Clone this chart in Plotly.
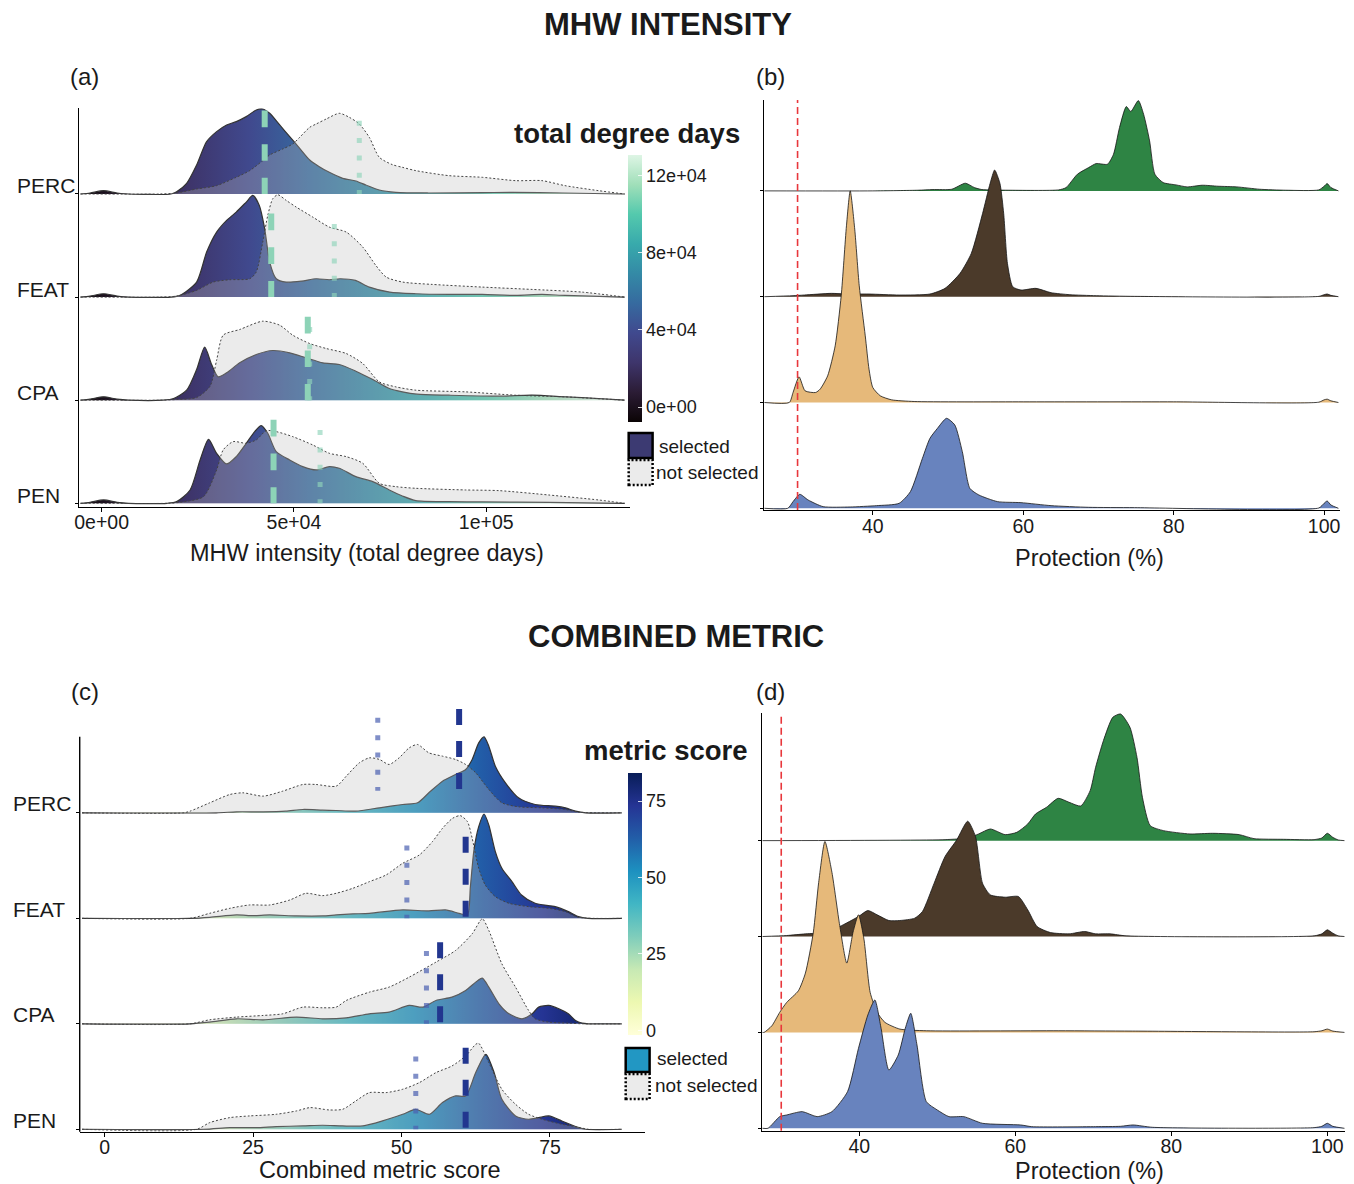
import numpy as np
import plotly.graph_objects as go

# ------------------------------------------------------------------ DATA
RIDGES = ["PERC", "FEAT", "CPA", "PEN"]          # top to bottom
RIDGE_LEVEL = [3, 2, 1, 0]

# Panel (a): MHW intensity, x in units of 1e4 total degree days; relative density heights
A_PERC_SEL_X = [-0.55, -0.3, 0.05, 0.4, 0.7, 1.8, 1.95, 2.21, 2.47, 2.73, 2.99, 3.25, 3.5, 3.76, 4.02, 4.19, 4.37, 4.63, 4.89, 5.15, 5.41, 5.66, 5.92, 6.27, 6.61, 6.87, 7.22, 7.65, 8.5, 9.9, 10.7, 12.0, 13.6]
A_PERC_SEL_D = [0, 3, 10, 3, 0, 0, 7, 32, 87, 157, 187, 207, 217, 232, 252, 255, 242, 207, 172, 137, 102, 82, 65, 47, 39, 27, 12, 5, 3, 4, 5, 3, 0]
A_PERC_NS_X = [-0.55, 1.5, 1.95, 2.47, 2.99, 3.5, 3.85, 4.19, 4.37, 4.71, 4.97, 5.15, 5.41, 5.58, 5.84, 6.18, 6.44, 6.7, 6.96, 7.22, 7.56, 7.82, 8.17, 9.03, 9.9, 10.76, 11.45, 12.05, 12.92, 13.6]
A_PERC_NS_D = [0, 0, 3, 15, 25, 50, 70, 100, 117, 135, 150, 170, 200, 210, 225, 242, 230, 210, 170, 110, 88, 80, 70, 55, 50, 40, 40, 25, 10, 0]
A_FEAT_SEL_X = [-0.55, -0.3, 0.05, 0.4, 0.7, 1.8, 2.04, 2.47, 2.73, 2.99, 3.25, 3.5, 3.76, 3.93, 4.1, 4.24, 4.37, 4.54, 4.8, 5.2, 5.58, 5.92, 6.2, 6.6, 6.96, 7.49, 8.17, 9.03, 9.9, 10.76, 11.45, 12.05, 13.6]
A_FEAT_SEL_D = [0, 3, 10, 3, 0, 0, 5, 45, 135, 195, 230, 255, 285, 305, 275, 205, 105, 55, 45, 48, 55, 52, 55, 50, 30, 15, 10, 8, 8, 5, 8, 5, 0]
A_FEAT_NS_X = [-0.55, 1.5, 1.95, 2.47, 2.9, 3.33, 3.85, 4.02, 4.19, 4.32, 4.45, 4.58, 4.8, 5.06, 5.49, 5.92, 6.36, 6.79, 7.13, 7.4, 7.83, 8.6, 9.9, 11.19, 12.49, 13.6]
A_FEAT_NS_D = [0, 0, 3, 20, 45, 52, 55, 75, 165, 245, 295, 307, 290, 270, 240, 210, 195, 150, 95, 60, 45, 38, 30, 23, 15, 0]
A_CPA_SEL_X = [-0.55, -0.3, 0.05, 0.4, 0.7, 1.6, 1.87, 2.21, 2.47, 2.68, 2.86, 3.03, 3.25, 3.59, 4.02, 4.45, 4.89, 5.32, 5.75, 6.18, 6.61, 7.05, 7.48, 7.82, 8.2, 9.03, 10.33, 11.19, 12.05, 12.92, 13.6]
A_CPA_SEL_D = [0, 3, 10, 3, 0, 0, 5, 30, 92, 159, 107, 70, 82, 112, 137, 149, 142, 127, 112, 107, 87, 62, 35, 25, 18, 15, 12, 15, 10, 5, 0]
A_CPA_NS_X = [-0.55, 1.5, 1.95, 2.47, 2.82, 2.99, 3.16, 3.59, 4.19, 4.63, 4.97, 5.41, 5.84, 6.36, 6.79, 7.22, 7.65, 8.17, 9.46, 10.76, 12.05, 13.6]
A_CPA_NS_D = [0, 0, 2, 8, 42, 120, 195, 212, 237, 225, 195, 170, 155, 140, 110, 55, 40, 30, 25, 15, 10, 0]
A_PEN_SEL_X = [-0.55, -0.3, 0.05, 0.4, 0.7, 1.7, 1.95, 2.3, 2.56, 2.78, 2.99, 3.25, 3.5, 3.76, 3.98, 4.15, 4.32, 4.54, 4.89, 5.23, 5.58, 5.92, 6.18, 6.61, 7.05, 7.48, 7.82, 8.17, 9.03, 9.9, 11.62, 13.6]
A_PEN_SEL_D = [0, 3, 10, 3, 0, 0, 5, 40, 130, 192, 150, 118, 140, 180, 215, 233, 210, 155, 130, 110, 100, 110, 105, 80, 65, 40, 22, 8, 5, 4, 3, 0]
A_PEN_NS_X = [-0.55, 1.7, 2.04, 2.65, 2.99, 3.16, 3.42, 3.76, 4.02, 4.28, 4.54, 4.97, 5.49, 5.92, 6.36, 6.79, 7.22, 7.65, 8.17, 9.46, 10.33, 11.62, 12.92, 13.6]
A_PEN_NS_D = [0, 0, 3, 20, 100, 160, 185, 180, 190, 218, 215, 200, 175, 150, 140, 120, 60, 50, 45, 40, 38, 25, 10, 0]
A_MEDIAN_SEL_E4 = [4.24, 4.41, 5.36, 4.47]     # PERC, FEAT, CPA, PEN
A_MEDIAN_NS_E4 = [6.70, 6.05, 5.41, 5.68]
A_TICKS = [0, 5e4, 1e5]
A_TICKTEXT = ["0e+00", "5e+04", "1e+05"]
A_CB_TICKS = [0, 4e4, 8e4, 12e4]
A_CB_TEXT = ["0e+00", "4e+04", "8e+04", "12e+04"]

# Panel (b): protection (%) under MHW intensity
B_PERC_X = [25.6, 40.0, 46.0, 48.0, 50.5, 52.3, 53.5, 54.5, 58.0, 64.7, 65.7, 67.2, 68.7, 69.7, 71.2, 72.0, 72.8, 73.7, 74.3, 75.3, 76.0, 76.8, 77.5, 78.6, 80.3, 81.8, 83.8, 85.9, 88.4, 91.4, 94.9, 99.3, 100.0, 100.4, 100.9, 101.9]
B_PERC_D = [0, 0, 2, 4, 5, 23, 10, 4, 2, 3, 10, 50, 70, 82, 80, 110, 190, 253, 238, 271, 230, 150, 50, 25, 18, 12, 17, 14, 12, 5, 2, 3, 14, 22, 10, 0]
B_FEAT_X = [25.6, 29.4, 30.9, 34.5, 36.5, 39.5, 43.5, 47.6, 49.6, 51.6, 53.1, 54.6, 55.6, 56.2, 56.9, 57.4, 57.9, 58.6, 59.7, 61.7, 63.7, 66.2, 69.7, 74.8, 99.3, 100.0, 100.4, 100.9, 101.9]
B_FEAT_D = [0, 3, 5, 10, 8, 8, 5, 8, 25, 70, 130, 250, 340, 380, 340, 250, 100, 30, 20, 25, 12, 6, 3, 1, 1, 6, 8, 4, 0]
B_CPA_X = [25.6, 28.9, 29.4, 30.2, 31.0, 32.4, 33.0, 34.0, 35.0, 35.8, 36.5, 37.0, 37.6, 38.2, 39.0, 39.5, 40.0, 41.0, 42.5, 45.5, 60.0, 80.0, 99.3, 100.0, 100.4, 100.9, 101.9]
B_CPA_D = [0, 0, 30, 77, 35, 30, 40, 80, 170, 320, 530, 635, 520, 350, 200, 100, 45, 20, 8, 3, 2, 2, 1, 8, 10, 5, 0]
B_PEN_X = [25.6, 28.7, 29.4, 30.3, 31.4, 33.4, 37.0, 40.5, 43.5, 45.0, 46.6, 47.6, 48.6, 49.8, 50.9, 51.9, 52.9, 54.1, 56.6, 59.7, 63.7, 68.7, 74.8, 99.3, 100.0, 100.4, 100.9, 101.9]
B_PEN_D = [0, 0, 20, 42, 25, 5, 4, 8, 15, 50, 150, 210, 240, 270, 250, 170, 60, 40, 20, 17, 8, 3, 2, 1, 15, 22, 10, 0]

# Panel (c): combined metric score
C_PERC_SEL_X = [-3.8, 18.8, 22.2, 26.7, 30.5, 33.4, 36.7, 39.0, 42.3, 46.3, 50.2, 52.7, 54.6, 56.9, 59.1, 60.8, 61.9, 63.0, 63.9, 64.7, 65.8, 67.5, 69.7, 72.5, 75.9, 77.6, 79.3, 81.0, 87.1]
C_PERC_SEL_D = [0, 0, 3, 3, 5, 10, 8, 7, 5, 15, 25, 30, 60, 95, 115, 130, 160, 210, 228, 200, 140, 90, 45, 25, 20, 15, 5, 0, 0]
C_PERC_NS_X = [-3.8, 13.3, 14.4, 17.7, 21.1, 23.3, 26.7, 30.0, 33.4, 35.6, 39.0, 40.7, 42.9, 44.6, 46.3, 47.9, 49.6, 51.3, 52.7, 54.6, 56.9, 59.1, 60.8, 62.5, 64.7, 66.9, 69.7, 73.7, 77.6, 79.8, 87.1]
C_PERC_NS_D = [0, 0, 5, 30, 55, 60, 50, 65, 85, 85, 80, 110, 150, 165, 160, 145, 165, 195, 205, 180, 170, 160, 145, 120, 70, 30, 18, 15, 10, 2, 0]
C_FEAT_SEL_X = [-3.8, 14.4, 17.7, 22.2, 25.0, 27.8, 32.3, 36.7, 39.0, 41.8, 44.6, 50.2, 54.6, 57.4, 59.7, 61.1, 61.6, 62.2, 63.0, 63.9, 64.7, 65.8, 66.9, 68.6, 70.2, 72.5, 75.9, 78.1, 79.8, 81.4, 87.1]
C_FEAT_SEL_D = [0, 0, 3, 10, 8, 10, 7, 7, 10, 13, 15, 25, 22, 25, 15, 10, 95, 205, 275, 313, 280, 200, 150, 110, 70, 45, 35, 20, 5, 0, 0]
C_FEAT_NS_X = [-3.8, 14.4, 17.7, 21.1, 24.4, 27.8, 31.2, 33.9, 36.7, 39.0, 41.8, 44.6, 47.4, 50.2, 53.0, 55.2, 56.9, 58.6, 59.9, 61.1, 61.9, 63.0, 64.1, 65.8, 68.1, 71.4, 74.8, 77.6, 79.8, 87.1]
C_FEAT_NS_D = [0, 0, 15, 30, 40, 40, 55, 75, 68, 75, 90, 110, 130, 165, 190, 230, 270, 300, 308, 290, 240, 150, 100, 65, 45, 35, 30, 20, 3, 0]
C_CPA_SEL_X = [-3.8, 14.4, 17.7, 22.2, 26.7, 32.3, 36.7, 40.7, 44.6, 47.9, 51.3, 53.6, 55.8, 58.5, 60.8, 62.5, 63.6, 64.7, 66.4, 68.1, 70.3, 72.0, 73.1, 74.8, 76.5, 78.1, 79.3, 80.4, 81.5, 87.1]
C_CPA_SEL_D = [0, 0, 5, 15, 12, 20, 15, 18, 30, 35, 55, 50, 70, 80, 100, 125, 137, 110, 60, 30, 15, 30, 50, 55, 45, 30, 10, 2, 0, 0]
C_CPA_NS_X = [-3.8, 14.4, 17.7, 22.2, 26.7, 30.0, 33.4, 36.7, 39.0, 40.7, 44.6, 47.9, 51.3, 55.8, 59.1, 61.9, 63.6, 64.7, 66.9, 69.2, 71.4, 72.5, 74.8, 78.1, 80.4, 87.1]
C_CPA_NS_D = [0, 0, 12, 20, 25, 30, 50, 48, 50, 70, 95, 110, 140, 185, 220, 270, 315, 280, 180, 110, 40, 15, 5, 2, 0, 0]
C_PEN_SEL_X = [-3.8, 16.6, 21.1, 25.5, 28.9, 33.4, 36.7, 40.1, 43.5, 46.8, 50.2, 52.4, 54.7, 56.9, 59.1, 60.8, 62.5, 64.2, 65.6, 66.9, 69.2, 71.4, 73.1, 74.8, 77.0, 79.3, 81.0, 87.1]
C_PEN_SEL_D = [0, 0, 5, 5, 8, 10, 12, 10, 10, 25, 45, 60, 45, 80, 100, 100, 170, 225, 170, 90, 40, 30, 35, 40, 25, 8, 0, 0]
C_PEN_NS_X = [-3.8, 15.5, 17.7, 21.1, 24.4, 28.9, 32.3, 34.6, 37.8, 40.1, 42.3, 44.6, 47.4, 50.2, 53.0, 55.8, 58.5, 60.8, 62.5, 63.0, 64.7, 66.9, 69.2, 71.4, 73.7, 77.0, 79.3, 81.5, 87.1]
C_PEN_NS_D = [0, 0, 20, 35, 40, 45, 55, 65, 58, 60, 85, 110, 110, 120, 140, 170, 190, 220, 255, 258, 200, 120, 75, 45, 30, 15, 8, 0, 0]
C_MEDIAN_SEL = [59.7, 60.8, 56.5, 60.8]        # PERC, FEAT, CPA, PEN
C_MEDIAN_NS = [46.0, 50.9, 54.2, 52.4]
C_TICKS = [0, 25, 50, 75]
C_CB_TICKS = [0, 25, 50, 75]

# Panel (d): protection (%) under combined metric
D_PERC_X = [27.6, 51.0, 53.9, 55.3, 56.8, 58.7, 60.2, 61.6, 62.6, 64.0, 65.5, 66.9, 68.4, 69.6, 70.3, 71.3, 72.5, 73.5, 74.7, 75.6, 76.3, 77.3, 79.0, 82.4, 85.3, 88.7, 90.6, 94.4, 98.3, 99.3, 100.0, 100.7, 101.4, 102.2]
D_PERC_D = [0, 3, 8, 20, 35, 18, 25, 50, 80, 100, 127, 115, 104, 150, 220, 300, 370, 380, 340, 250, 130, 45, 30, 20, 22, 18, 6, 4, 3, 8, 22, 10, 2, 0]
D_FEAT_X = [27.6, 30.7, 33.1, 35.6, 37.5, 39.9, 41.1, 42.3, 43.8, 45.2, 47.1, 48.1, 49.6, 51.0, 52.5, 53.9, 54.9, 55.8, 56.8, 58.7, 60.4, 61.6, 62.8, 64.5, 66.9, 68.9, 70.3, 72.2, 74.2, 98.3, 99.3, 100.0, 100.7, 101.4, 102.2]
D_FEAT_D = [0, 3, 8, 12, 30, 60, 78, 65, 48, 48, 55, 75, 160, 240, 290, 346, 300, 160, 125, 118, 120, 80, 30, 12, 8, 15, 8, 8, 2, 2, 8, 20, 10, 2, 0]
D_CPA_X = [27.6, 27.8, 28.8, 29.8, 30.7, 32.2, 33.1, 34.1, 34.8, 35.6, 36.5, 37.5, 38.4, 39.2, 39.9, 40.6, 41.4, 42.3, 43.3, 45.2, 48.6, 65.5, 75.0, 98.3, 99.3, 100.0, 100.7, 102.2]
D_CPA_D = [0, 0, 20, 60, 90, 125, 178, 298, 450, 573, 480, 320, 208, 300, 353, 280, 120, 60, 30, 10, 5, 5, 4, 2, 5, 10, 4, 0]
D_PEN_X = [27.6, 28.3, 29.8, 30.7, 32.7, 34.6, 36.5, 38.5, 39.9, 41.1, 42.0, 42.8, 43.8, 45.0, 45.9, 46.6, 47.4, 48.6, 50.0, 51.5, 53.4, 55.8, 60.7, 62.1, 70.3, 73.5, 75.1, 77.6, 98.3, 99.3, 100.0, 100.7, 102.2]
D_PEN_D = [0, 0, 35, 40, 50, 35, 50, 110, 240, 340, 385, 300, 175, 220, 300, 345, 250, 80, 55, 35, 35, 15, 10, 5, 5, 6, 10, 3, 2, 6, 15, 6, 0]

PROT_TICKS = [40, 60, 80, 100]
PROTECTION_TARGET = 30

# ------------------------------------------------------------------ STYLE
W, H = 1354, 1184
FONT = "Liberation Sans, Arial, Helvetica, sans-serif"
INK = "#1a1a1a"
E4 = 1e4

MAKO = [[0.0, "#0B0405"], [0.111, "#2B1C35"], [0.222, "#3E356B"], [0.333, "#40498E"],
        [0.444, "#366A9F"], [0.556, "#348AA6"], [0.667, "#38AAAC"], [0.778, "#54C9AD"],
        [0.889, "#A0DFB9"], [1.0, "#DEF5E5"]]
YLGNBU_HEX = ["#ffffd9", "#edf8b1", "#c7e9b4", "#7fcdbb", "#41b6c4", "#1d91c0", "#225ea8", "#253494", "#081d58"]
YLGNBU = [[i / (len(YLGNBU_HEX) - 1), c] for i, c in enumerate(YLGNBU_HEX)]
A_CMIN, A_CMAX = -7700, 130500
C_CMIN, C_CMAX = -1.5, 84.2

RIDGE_COLORS = {"PERC": "#2e8444", "FEAT": "#4b3a2a", "CPA": "#e6b97a", "PEN": "#6883be"}
GREY_FILL = "rgba(190,190,190,0.30)"

SCALE_A = 1 / 309.3
SCALE_B = 1 / 317.4
SCALE_C = 1 / 316.5
SCALE_D = 1 / 287.7


def px(x):
    return x / W


def py(y):
    return 1 - y / H


fig = go.Figure()


def add_ridge(xs, ds, base, scale, ax, line, fillcolor=None, gradient=None, xmul=1.0):
    xs = np.asarray(xs, float) * xmul
    ys = base + np.asarray(ds, float) * scale
    fig.add_trace(go.Scatter(x=[xs[0], xs[-1]], y=[base, base], mode="lines",
                             line=dict(width=0, color="rgba(0,0,0,0)"), hoverinfo="skip",
                             showlegend=False, xaxis=ax[0], yaxis=ax[1]))
    kw = dict(x=xs, y=ys, mode="lines", fill="tonexty", line=line, hoverinfo="skip",
              showlegend=False, xaxis=ax[0], yaxis=ax[1])
    if gradient is not None:
        kw["fillgradient"] = gradient
    else:
        kw["fillcolor"] = fillcolor
    fig.add_trace(go.Scatter(**kw))


def vseg(x, y0, y1, ax, color, width, dash):
    fig.add_trace(go.Scatter(x=[x, x], y=[y0, y1], mode="lines",
                             line=dict(color=color, width=width, dash=dash),
                             hoverinfo="skip", showlegend=False, xaxis=ax[0], yaxis=ax[1]))


SEL_LINE = dict(color="#333333", width=1.2, shape="spline", smoothing=0.7)
NS_LINE = dict(color="#444444", width=1.0, dash="2px,2px", shape="spline", smoothing=0.7)
PROT_LINE = dict(color="#151515", width=0.8, shape="spline", smoothing=0.6)

# ---------------- panel (a)
A_SEL = {"PERC": (A_PERC_SEL_X, A_PERC_SEL_D), "FEAT": (A_FEAT_SEL_X, A_FEAT_SEL_D),
         "CPA": (A_CPA_SEL_X, A_CPA_SEL_D), "PEN": (A_PEN_SEL_X, A_PEN_SEL_D)}
A_NS = {"PERC": (A_PERC_NS_X, A_PERC_NS_D), "FEAT": (A_FEAT_NS_X, A_FEAT_NS_D),
        "CPA": (A_CPA_NS_X, A_CPA_NS_D), "PEN": (A_PEN_NS_X, A_PEN_NS_D)}
A_GRAD = dict(type="horizontal", colorscale=MAKO, start=A_CMIN, stop=A_CMAX)
for name, lev in zip(RIDGES, RIDGE_LEVEL):
    add_ridge(*A_SEL[name], lev, SCALE_A, ("x", "y"), SEL_LINE, gradient=A_GRAD, xmul=E4)
    add_ridge(*A_NS[name], lev, SCALE_A, ("x", "y"), NS_LINE, fillcolor=GREY_FILL, xmul=E4)

# ---------------- panel (b)
B_DATA = {"PERC": (B_PERC_X, B_PERC_D), "FEAT": (B_FEAT_X, B_FEAT_D),
          "CPA": (B_CPA_X, B_CPA_D), "PEN": (B_PEN_X, B_PEN_D)}
for name, lev in zip(RIDGES, RIDGE_LEVEL):
    add_ridge(*B_DATA[name], lev, SCALE_B, ("x2", "y2"), PROT_LINE, fillcolor=RIDGE_COLORS[name])

# ---------------- panel (c)
C_SEL = {"PERC": (C_PERC_SEL_X, C_PERC_SEL_D), "FEAT": (C_FEAT_SEL_X, C_FEAT_SEL_D),
         "CPA": (C_CPA_SEL_X, C_CPA_SEL_D), "PEN": (C_PEN_SEL_X, C_PEN_SEL_D)}
C_NS = {"PERC": (C_PERC_NS_X, C_PERC_NS_D), "FEAT": (C_FEAT_NS_X, C_FEAT_NS_D),
        "CPA": (C_CPA_NS_X, C_CPA_NS_D), "PEN": (C_PEN_NS_X, C_PEN_NS_D)}
C_GRAD = dict(type="horizontal", colorscale=YLGNBU, start=C_CMIN, stop=C_CMAX)
for name, lev in zip(RIDGES, RIDGE_LEVEL):
    add_ridge(*C_SEL[name], lev, SCALE_C, ("x3", "y3"), SEL_LINE, gradient=C_GRAD)
    add_ridge(*C_NS[name], lev, SCALE_C, ("x3", "y3"), NS_LINE, fillcolor=GREY_FILL)

# ---------------- panel (d)
D_DATA = {"PERC": (D_PERC_X, D_PERC_D), "FEAT": (D_FEAT_X, D_FEAT_D),
          "CPA": (D_CPA_X, D_CPA_D), "PEN": (D_PEN_X, D_PEN_D)}
for name, lev in zip(RIDGES, RIDGE_LEVEL):
    add_ridge(*D_DATA[name], lev, SCALE_D, ("x4", "y4"), PROT_LINE, fillcolor=RIDGE_COLORS[name])

# ---------------- median lines
A_DASH_H, A_DOT_H = 0.81, 0.71
for lev, ms, mn in zip(RIDGE_LEVEL, A_MEDIAN_SEL_E4, A_MEDIAN_NS_E4):
    vseg(mn * E4, lev + A_DOT_H, lev, ("x", "y"), "rgba(143,212,186,0.65)", 5, "5px,12.3px")
    vseg(ms * E4, lev + A_DASH_H, lev, ("x", "y"), "#8dd3b7", 6, "16.7px,17px")

C_DASH_H, C_DOT_H = 0.774, 0.69
C_LINE_LIFT = [0.21, 0.0, 0.0, 0.0]
for lev, ms, mn, lift in zip(RIDGE_LEVEL, C_MEDIAN_SEL, C_MEDIAN_NS, C_LINE_LIFT):
    vseg(mn, lev + lift + C_DOT_H, lev + lift, ("x3", "y3"), "rgba(74,95,176,0.70)", 5, "5px,12.3px")
    vseg(ms, lev + lift + C_DASH_H, lev + lift, ("x3", "y3"), "#22368f", 6, "16px,16px")

# ---------------- colorbars
fig.add_trace(go.Scatter(
    x=[A_CMIN, A_CMIN], y=[-5, -5], mode="markers", hoverinfo="skip", showlegend=False,
    xaxis="x", yaxis="y",
    marker=dict(size=1, opacity=0, color=[A_CMIN, A_CMAX], colorscale=MAKO, cmin=A_CMIN, cmax=A_CMAX,
                showscale=True,
                colorbar=dict(x=px(626), xanchor="left", y=py(288.5), yanchor="middle",
                              len=267 / H, lenmode="fraction", thickness=14, thicknessmode="pixels",
                              xpad=0, ypad=0, outlinewidth=0, tickvals=A_CB_TICKS, ticktext=A_CB_TEXT,
                              ticks="inside", ticklen=4, tickcolor="rgba(255,255,255,0.8)",
                              tickfont=dict(size=18, color=INK, family=FONT)))))
fig.add_trace(go.Scatter(
    x=[C_CMIN, C_CMIN], y=[-5, -5], mode="markers", hoverinfo="skip", showlegend=False,
    xaxis="x3", yaxis="y3",
    marker=dict(size=1, opacity=0, color=[C_CMIN, C_CMAX], colorscale=YLGNBU, cmin=C_CMIN, cmax=C_CMAX,
                showscale=True,
                colorbar=dict(x=px(626), xanchor="left", y=py(903.9), yanchor="middle",
                              len=262.3 / H, lenmode="fraction", thickness=14, thicknessmode="pixels",
                              xpad=0, ypad=0, outlinewidth=0, tickvals=C_CB_TICKS,
                              ticks="inside", ticklen=4, tickcolor="rgba(255,255,255,0.8)",
                              tickfont=dict(size=18, color=INK, family=FONT)))))

# ---------------- axes
def xax(domain, rng, tickvals, ticktext, anchor):
    return dict(domain=domain, range=rng, anchor=anchor, showline=True, linecolor="black",
                linewidth=1.4, ticks="outside", ticklen=4, tickwidth=1, tickcolor="black",
                tickvals=tickvals, ticktext=ticktext, ticklabelstandoff=-6,
                tickfont=dict(size=19.5, color=INK, family=FONT),
                showgrid=False, zeroline=False, fixedrange=True)


def yax(domain, rng, anchor, showline=True):
    return dict(domain=domain, range=rng, anchor=anchor, showline=showline, linecolor="black",
                linewidth=1.4, ticks="outside", ticklen=3, tickwidth=1, tickcolor="black",
                tickvals=RIDGE_LEVEL, showticklabels=False,
                showgrid=False, zeroline=False, fixedrange=True)


fig.update_layout(
    xaxis=xax([px(75), px(628)], [-5959, 137306], A_TICKS, A_TICKTEXT, "y"),
    yaxis=yax([py(506.7), py(108.3)], [-0.033, 3.831], "x"),
    xaxis2=xax([px(762.6), px(1340.5)], [25.51, 102.05], PROT_TICKS, [str(v) for v in PROT_TICKS], "y2"),
    yaxis2=yax([py(510), py(100)], [-0.016, 3.859], "x2"),
    xaxis3=xax([px(76), px(643)], [-4.19, 90.94], C_TICKS, [str(v) for v in C_TICKS], "y3"),
    yaxis3=yax([py(1131.7), py(705)], [-0.023, 4.022], "x3", showline=False),
    xaxis4=xax([px(760.7), px(1346)], [27.52, 102.27], PROT_TICKS, [str(v) for v in PROT_TICKS], "y4"),
    yaxis4=yax([py(1130.7), py(713)], [-0.025, 4.331], "x4"),
)

# ---------------- shapes
shapes = [
    dict(type="line", xref="x2", yref="y2 domain", x0=PROTECTION_TARGET, x1=PROTECTION_TARGET, y0=0, y1=1,
         line=dict(color="#e8373c", width=1.6, dash="7px,4px"), layer="above"),
    dict(type="line", xref="x4", yref="y4 domain", x0=PROTECTION_TARGET, x1=PROTECTION_TARGET, y0=0, y1=1,
         line=dict(color="#e8373c", width=1.6, dash="7px,4px"), layer="above"),
    dict(type="line", xref="x3 domain", yref="paper", x0=0, x1=0, y0=py(1131.7), y1=py(736.7),
         line=dict(color="black", width=1.4)),
    # legend keys (a)
    dict(type="rect", xref="paper", yref="paper", x0=px(627), x1=px(651), y0=py(458), y1=py(433),
         fillcolor="#3c3a72", line=dict(color="black", width=2.5)),
    dict(type="rect", xref="paper", yref="paper", x0=px(627), x1=px(651), y0=py(485), y1=py(460),
         fillcolor="#ebebeb", line=dict(color="black", width=2.5, dash="2px,2px")),
    # legend keys (c)
    dict(type="rect", xref="paper", yref="paper", x0=px(624), x1=px(648), y0=py(1072), y1=py(1048),
         fillcolor="#2297c3", line=dict(color="black", width=2.5)),
    dict(type="rect", xref="paper", yref="paper", x0=px(624), x1=px(648), y0=py(1099), y1=py(1074),
         fillcolor="#ebebeb", line=dict(color="black", width=2.5, dash="2px,2px")),
]

# ---------------- annotations
def txt(text, x, y, size, xanchor="center", bold=False, yanchor="middle"):
    return dict(text=f"<b>{text}</b>" if bold else text, x=px(x), y=py(y), xref="paper", yref="paper",
                xanchor=xanchor, yanchor=yanchor, showarrow=False,
                font=dict(size=size, color=INK, family=FONT))


ann = [
    txt("MHW INTENSITY", 666, 24, 31, bold=True),
    txt("COMBINED METRIC", 674, 636, 31, bold=True),
    txt("(a)", 64, 77, 24, xanchor="left"),
    txt("(b)", 753, 77, 24, xanchor="left"),
    txt("(c)", 65, 691, 24, xanchor="left"),
    txt("(d)", 753, 691, 24, xanchor="left"),
    txt("total degree days", 625, 134, 27.5, bold=True),
    txt("metric score", 664, 750, 27.5, bold=True),
    txt("MHW intensity (total degree days)", 364, 553, 23.5),
    txt("Protection (%)", 1090, 558, 23.5),
    txt("Combined metric score", 377, 1170, 23.5),
    txt("Protection (%)", 1090, 1171, 23.5),
    txt("selected", 655, 446, 19, xanchor="left"),
    txt("not selected", 652, 473, 19, xanchor="left"),
    txt("selected", 653, 1058, 19, xanchor="left"),
    txt("not selected", 651, 1085, 19, xanchor="left"),
]
for name, lev in zip(RIDGES, RIDGE_LEVEL):
    ann.append(dict(text=name, x=px(11), y=lev, xref="paper", yref="y", xanchor="left", yanchor="middle",
                    yshift=8, showarrow=False, font=dict(size=21, color=INK, family=FONT)))
    ann.append(dict(text=name, x=px(7), y=lev, xref="paper", yref="y3", xanchor="left", yanchor="middle",
                    yshift=9, showarrow=False, font=dict(size=21, color=INK, family=FONT)))

fig.update_layout(
    width=W, height=H, autosize=False,
    margin=dict(l=0, r=0, t=0, b=0),
    paper_bgcolor="white", plot_bgcolor="white",
    font=dict(family=FONT, color=INK),
    showlegend=False,
    shapes=shapes,
    annotations=ann,
)

fig.write_html("out.html")
